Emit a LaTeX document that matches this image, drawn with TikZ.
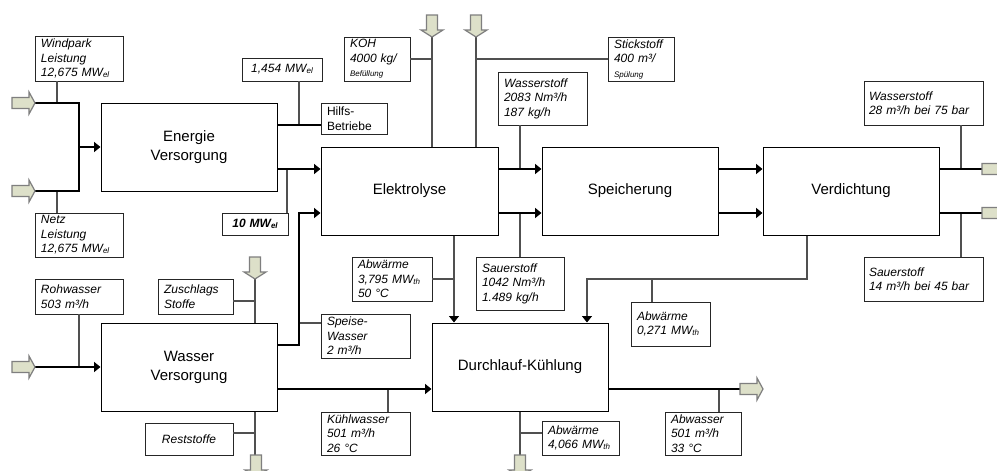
\documentclass[tikz,border=0pt]{standalone}
\usepackage{fontspec}
\setmainfont{Liberation Sans}
\usetikzlibrary{arrows.meta,calc}
\definecolor{arrowfill}{HTML}{DDE0C9}
\definecolor{arrowedge}{HTML}{7F7F7F}
\definecolor{auxgray}{HTML}{505050}
\newcommand{\subs}[1]{\raisebox{-0.8pt}{\fontsize{8}{8}\selectfont #1}}
\newcommand{\smalltxt}[1]{{\fontsize{8}{10}\selectfont #1}}
\newcommand{\rarrow}[2]{\filldraw[barrow] (#1,#2) ++(0,-5.5) -- ++(17,0) -- ++(0,-5.5) -- ++(6,11) -- ++(-6,11) -- ++(0,-5.5) -- ++(-17,0) -- cycle;}
\newcommand{\darrow}[2]{\filldraw[barrow] (#1,#2) ++(-5.5,0) -- ++(11,0) -- ++(0,15) -- ++(5.5,0) -- ++(-11,7) -- ++(-11,-7) -- ++(5.5,0) -- cycle;}
\begin{document}
\begin{tikzpicture}[x=1pt,y=-1pt,
  mainbox/.style={draw=black,line width=1pt,minimum width=176pt,minimum height=88pt,inner sep=0pt,align=center,font=\fontsize{15}{19}\selectfont},
  lab/.style={draw=black!85,line width=0.9pt,inner xsep=6pt,inner ysep=0pt,font=\fontsize{12}{14.5}\selectfont\itshape,align=left},
  flow/.style={line width=1.8pt,black},
  aux/.style={line width=1.3pt,auxgray},
  tip/.style={-{Triangle[length=6.5pt,width=10pt,color=black]}},
  barrow/.style={fill=arrowfill,draw=arrowedge,line width=1.2pt,line join=miter}
]
\clip (0,0) rectangle (997,471);
\fill[white] (0,0) rectangle (997,471);

% helper rows and columns
\foreach \r in {103,125,169,191,213,279,301,323,345,367,389,433}{\coordinate (r\r) at (0,\r);}
\foreach \c in {57,287,299,388,454,520,652,719,961}{\coordinate (c\c) at (\c,0);}

% main boxes
\node[mainbox] (EV) at (189,147) {Energie\\Versorgung};
\node[mainbox,minimum width=177pt] (EL) at (409.5,191) {Elektrolyse};
\node[mainbox] (SP) at (630,191) {Speicherung};
\node[mainbox] (VD) at (851,191) {Verdichtung};
\node[mainbox] (WV) at (189,367) {Wasser\\Versorgung};
\node[mainbox] (DK) at (520,367) {Durchlauf-Kühlung};

% label boxes
\node[lab,text width=76pt,minimum height=45pt] (WP) at (79,58.5) {Windpark\\Leistung\\12,675 MW\subs{el}};
\node[lab,text width=76pt,minimum height=44pt] (NZ) at (79,235) {Netz\\Leistung\\12,675 MW\subs{el}};
\node[lab,text width=68pt,minimum height=23pt,align=center] (MW1) at (282,69.5) {1,454 MW\subs{el}};
\node[lab,text width=54pt,minimum height=31pt,font=\fontsize{12}{14.5}\selectfont] (HB) at (354,118.5) {Hilfs-\\Betriebe};
\node[lab,text width=54pt,minimum height=22pt,align=center,font=\fontsize{12}{14.5}\selectfont\bfseries\itshape] (MW10) at (255,224) {10 MW\subs{el}};
\node[lab,text width=54pt,minimum height=44pt] (KOH) at (377,59) {KOH\\4000 kg/\\\smalltxt{Befüllung}};
\node[lab,text width=54pt,minimum height=44pt] (N2) at (641,59) {Stickstoff\\400 m³/\\\smalltxt{Spülung}};
\node[lab,text width=77pt,minimum height=53pt] (H2m) at (542.5,98.5) {Wasserstoff\\2083 Nm³/h\\187 kg/h};
\node[lab,text width=76pt,minimum height=53pt] (O2m) at (520,283.5) {Sauerstoff\\1042 Nm³/h\\1.489 kg/h};
\node[lab,text width=68pt,minimum height=44pt] (AW1) at (392,279) {Abwärme\\3,795 MW\subs{th}\\50 °C};
\node[lab,inner xsep=5pt,text width=109pt,minimum height=44pt] (H2r) at (923.5,103) {Wasserstoff\\\mbox{28 m³/h bei 75 bar}};
\node[lab,inner xsep=5pt,text width=109pt,minimum height=44pt] (O2r) at (923.5,279) {Sauerstoff\\\mbox{14 m³/h bei 45 bar}};
\node[lab,text width=67pt,minimum height=44pt] (AW2) at (670.5,324) {Abwärme\\0,271 MW\subs{th}};
\node[lab,text width=76pt,minimum height=35pt] (RW) at (79,296.5) {Rohwasser\\503 m³/h};
\node[lab,text width=63pt,minimum height=35pt] (ZS) at (195.5,296.5) {Zuschlags\\Stoffe};
\node[lab,text width=77pt,minimum height=44pt] (SW) at (365.5,336) {Speise-\\Wasser\\2 m³/h};
\node[lab,text width=76pt,minimum height=32pt,align=center] (RS) at (189,439) {Reststoffe};
\node[lab,text width=77pt,minimum height=43pt] (KW) at (365.5,433.5) {Kühlwasser\\501 m³/h\\26 °C};
\node[lab,text width=65pt,minimum height=34pt] (AW3) at (580.5,438) {Abwärme\\4,066 MW\subs{th}};
\node[lab,text width=64pt,minimum height=43pt] (AB) at (703,433.5) {Abwasser\\501 m³/h\\33 °C};

% junction / arrow coordinates
\coordinate (inW) at (35,103);
\coordinate (inN) at (35,191);
\coordinate (jW) at (79,103);
\coordinate (jN) at (79,191);
\coordinate (jM) at (79,147);
\coordinate (inR) at (35,367);
\coordinate (jS) at (299,345);
\coordinate (outH) at (982,169);
\coordinate (outO) at (982,213);
\coordinate (outA) at (740,389);
\coordinate (tKOH) at (432,37);
\coordinate (tN2) at (476,37);
\coordinate (jV) at (807,279);
\coordinate (jK) at (587,279);
\coordinate (tZ) at (255,279);
\coordinate (tR) at (255,455);
\coordinate (tD) at (520,455);

% auxiliary connectors
\draw[aux] (WP.south -| c57) -- (c57 |- jW);
\draw[aux] (NZ.north -| c57) -- (c57 |- jN);
\draw[aux] (MW1.south -| c299) -- (c299 |- r125);
\draw[aux] (MW10.north -| c287) -- (c287 |- r169);
\draw[aux] (tKOH) -- (EL.north -| tKOH);
\draw[aux] (KOH.east) -- (KOH.east -| tKOH);
\draw[aux] (tN2) -- (EL.north -| tN2);
\draw[aux] (N2.west) -- (N2.west -| tN2);
\draw[aux] (H2m.south -| c520) -- (c520 |- r169);
\draw[aux] (O2m.north -| c520) -- (c520 |- r213);
\draw[aux,tip] (EL.south -| c454) -- (DK.north -| c454);
\draw[aux] (AW1.east) -- (AW1.east -| c454);
\draw[aux,tip] (VD.south -| jV) -- (jV) -- (jK) -- (DK.north -| jK);
\draw[aux] (c652 |- jV) -- (AW2.north -| c652);
\draw[aux] (H2r.south -| c961) -- (c961 |- r169);
\draw[aux] (O2r.north -| c961) -- (c961 |- r213);
\draw[aux] (RW.south) -- (RW.south |- inR);
\draw[aux] (tZ) -- (WV.north -| tZ);
\draw[aux] (ZS.east |- r301) -- (tZ |- r301);
\draw[aux] (WV.south -| tR) -- (tR);
\draw[aux] (RS.east |- r433) -- (tR |- r433);
\draw[aux] (jS |- r323) -- (SW.west |- r323);
\draw[aux] (c388 |- r389) -- (KW.north -| c388);
\draw[aux] (DK.south -| tD) -- (tD);
\draw[aux] (AW3.west |- r433) -- (tD |- r433);
\draw[aux] (c719 |- r389) -- (AB.north -| c719);

% main flows
\draw[flow] (inW) -- (jW) -- (jN) -- (inN);
\draw[flow,tip] (jM) -- (EV.west);
\draw[flow] (EV.east |- r125) -- (HB.west |- r125);
\draw[flow,tip] (EV.east |- r169) -- (EL.west |- r169);
\draw[flow,tip] (WV.east |- r345) -- (jS) |- (EL.west |- r213);
\draw[flow,tip] (WV.east |- r389) -- (DK.west |- r389);
\draw[flow,tip] (inR) -- (WV.west);
\draw[flow,tip] (EL.east |- r169) -- (SP.west |- r169);
\draw[flow,tip] (EL.east |- r213) -- (SP.west |- r213);
\draw[flow,tip] (SP.east |- r169) -- (VD.west |- r169);
\draw[flow,tip] (SP.east |- r213) -- (VD.west |- r213);
\draw[flow] (VD.east |- r169) -- (outH);
\draw[flow] (VD.east |- r213) -- (outO);
\draw[flow] (DK.east |- r389) -- (outA);

% block arrows
\rarrow{12}{103}
\rarrow{12}{191}
\rarrow{12}{367}
\rarrow{740}{389}
\rarrow{982}{169}
\rarrow{982}{213}
\darrow{432}{15}
\darrow{476}{15}
\darrow{255}{257}
\darrow{256}{455}
\darrow{520}{455}
\end{tikzpicture}
\end{document}
